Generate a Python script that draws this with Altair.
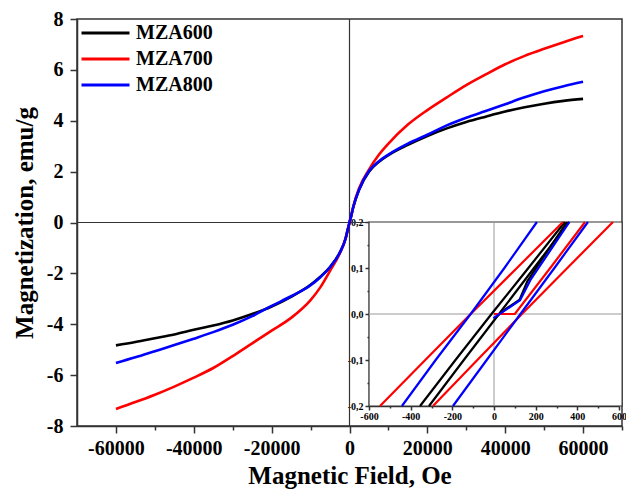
import altair as alt
import pandas as pd

# ---------------- main curves ----------------
FIELD = [-60000, -55000, -50000, -45000, -40000, -35000, -30000, -25000, -20000,
         -15000, -10000, -7500, -5000, -2500, -1000, -500, 0, 500, 1000, 2500,
         5000, 7500, 10000, 15000, 20000, 25000, 30000, 35000, 40000, 45000,
         50000, 55000, 60000]

M_MZA600 = [-4.83, -4.70, -4.55, -4.40, -4.22, -4.05, -3.85, -3.60, -3.30, -2.92,
            -2.45, -2.13, -1.75, -1.18, -0.62, -0.31, 0.0, 0.30, 0.62, 1.30, 2.00,
            2.38, 2.65, 3.05, 3.40, 3.70, 3.95, 4.16, 4.36, 4.53, 4.67, 4.78, 4.86]
M_MZA700 = [-7.33, -7.06, -6.77, -6.45, -6.10, -5.72, -5.25, -4.75, -4.25, -3.75,
            -3.05, -2.55, -1.90, -1.22, -0.63, -0.31, 0.0, 0.30, 0.64, 1.36, 2.08,
            2.65, 3.10, 3.85, 4.42, 4.92, 5.40, 5.82, 6.22, 6.55, 6.83, 7.09, 7.33]
M_MZA800 = [-5.52, -5.30, -5.06, -4.82, -4.57, -4.31, -4.02, -3.68, -3.28, -2.90,
            -2.47, -2.15, -1.76, -1.19, -0.63, -0.31, 0.0, 0.30, 0.63, 1.31, 2.02,
            2.40, 2.67, 3.10, 3.45, 3.82, 4.12, 4.38, 4.65, 4.92, 5.16, 5.36, 5.53]

SAMPLES = ["MZA600", "MZA700", "MZA800"]
COLORS = ["#000000", "#ff0000", "#0000ff"]

# ---------------- inset (low-field loops) ----------------
BLACK_DESC_H = [-355, -185, -12, 165, 340]
BLACK_DESC_M = [-0.2, -0.1, 0.0, 0.1, 0.2]
BLACK_ASC_H = [-312, -145, 24, 192, 360]
BLACK_ASC_M = [-0.2, -0.1, 0.0, 0.1, 0.2]
BLACK_VIRGIN_H = [0, 60, 123, 160, 350]
BLACK_VIRGIN_M = [-0.01, 0.012, 0.031, 0.071, 0.2]

RED_DESC_H = [-547, -330, -112, 110, 331]
RED_DESC_M = [-0.2, -0.1, 0.0, 0.1, 0.2]
RED_ASC_H = [-293, -80, 134, 352, 571]
RED_ASC_M = [-0.2, -0.1, 0.0, 0.1, 0.2]
RED_VIRGIN_H = [0, 100, 270, 437]
RED_VIRGIN_M = [0.0, 0.0, 0.1, 0.2]

BLUE_DESC_H = [-442, -280, -112, 50, 206]
BLUE_DESC_M = [-0.2, -0.1, 0.0, 0.1, 0.2]
BLUE_ASC_H = [-197, -35, 127, 290, 451]
BLUE_ASC_M = [-0.2, -0.1, 0.0, 0.1, 0.2]
BLUE_VIRGIN_H = [-3, 60, 125, 175, 362]
BLUE_VIRGIN_M = [-0.009, 0.01, 0.03, 0.074, 0.2]

# ---------------- build tables ----------------
rows = []
for s, vals in zip(SAMPLES, [M_MZA600, M_MZA700, M_MZA800]):
    for i, (h, m) in enumerate(zip(FIELD, vals)):
        rows.append({"field": h, "M": m, "sample": s, "idx": i})
main_df = pd.DataFrame(rows)

branches = [
    ("MZA600", "desc", BLACK_DESC_H, BLACK_DESC_M),
    ("MZA600", "asc", BLACK_ASC_H, BLACK_ASC_M),
    ("MZA600", "virgin", BLACK_VIRGIN_H, BLACK_VIRGIN_M),
    ("MZA700", "desc", RED_DESC_H, RED_DESC_M),
    ("MZA700", "asc", RED_ASC_H, RED_ASC_M),
    ("MZA700", "virgin", RED_VIRGIN_H, RED_VIRGIN_M),
    ("MZA800", "desc", BLUE_DESC_H, BLUE_DESC_M),
    ("MZA800", "asc", BLUE_ASC_H, BLUE_ASC_M),
    ("MZA800", "virgin", BLUE_VIRGIN_H, BLUE_VIRGIN_M),
]
irows = []
for s, b, hs, ms in branches:
    for i, (h, m) in enumerate(zip(hs, ms)):
        irows.append({"ix": h, "iy": m, "sample": s, "branch": s + b, "idx": i})
inset_df = pd.DataFrame(irows)

FONT = "Liberation Serif"

# ---------------- main layer ----------------
xscale = alt.Scale(domain=[-70000, 70000], nice=False, zero=False)
yscale = alt.Scale(domain=[-8, 8], nice=False, zero=False)

x_axis = alt.Axis(
    values=list(range(-60000, 70001, 10000)),
    labelExpr="datum.value % 20000 === 0 ? '' + datum.value : ''",
    tickSize={"condition": {"test": "datum.value % 20000 === 0", "value": 7}, "value": 4},
    title="Magnetic Field, Oe", labelFontSize=20, titleFontSize=25,
    labelPadding=5, titlePadding=5, labelFlush=False, labelOverlap=False,
    grid=False,
)
y_axis = alt.Axis(
    values=list(range(-8, 9)),
    labelExpr="datum.value % 2 === 0 ? '' + datum.value : ''",
    tickSize={"condition": {"test": "datum.value % 2 === 0", "value": 7}, "value": 4},
    title="Magnetization, emu/g", labelFontSize=20, titleFontSize=25,
    labelPadding=7, titlePadding=9, labelOverlap=False, grid=False,
)

lines = alt.Chart(main_df).mark_line(strokeWidth=2.6, interpolate="monotone").encode(
    x=alt.X("field:Q", scale=xscale, axis=x_axis),
    y=alt.Y("M:Q", scale=yscale, axis=y_axis),
    color=alt.Color(
        "sample:N",
        scale=alt.Scale(domain=SAMPLES, range=COLORS),
        legend=alt.Legend(
            orient="none", legendX=3, legendY=4, title=None,
            symbolType="stroke", symbolSize=2304, symbolStrokeWidth=3,
            labelFontSize=20, labelFont=FONT, labelFontWeight="bold",
            labelColor="black", labelOffset=5, rowPadding=6, clipHeight=20,
            padding=0,
        ),
    ),
    order="idx:Q",
)

zero_v = alt.Chart(pd.DataFrame({"field": [0]})).mark_rule(
    color="#333", strokeWidth=1.2).encode(x="field:Q")
zero_h = alt.Chart(pd.DataFrame({"M": [0]})).mark_rule(
    color="#333", strokeWidth=1.2).encode(y="M:Q")

main = alt.layer(zero_v, zero_h, lines)

# ---------------- inset layer ----------------
ixscale = alt.Scale(domain=[-600, 600], range=[292, 542], nice=False, zero=False)
iyscale = alt.Scale(domain=[-0.2, 0.2], range=[387, 203], nice=False, zero=False)

ix_axis = alt.Axis(
    orient="bottom", offset=-20,
    values=list(range(-600, 601, 100)),
    labelExpr="datum.value % 200 === 0 ? '' + datum.value : ''",
    tickSize={"condition": {"test": "datum.value % 200 === 0", "value": 4}, "value": 2},
    title=None, labelFontSize=10, labelPadding=1, labelFlush=False,
    labelOverlap=False, grid=False,
)
iy_axis = alt.Axis(
    orient="left", offset=-292,
    values=[-0.2, -0.15, -0.1, -0.05, 0, 0.05, 0.1, 0.15, 0.2],
    labelExpr=("abs(datum.value*10 - round(datum.value*10)) < 0.001 ? "
               "(datum.value < -0.001 ? '-' : '') + "
               "replace(format(abs(datum.value), '.1f'), '.', ',') : ''"),
    tickSize={"condition": {"test": "abs(datum.value*10 - round(datum.value*10)) < 0.001",
                            "value": 4}, "value": 2},
    title=None, labelFontSize=10, labelPadding=2, labelOverlap=False, grid=False,
)

bg = alt.Chart(pd.DataFrame({"ix": [-600], "ix2": [615], "iy": [-0.2], "iy2": [0.2]})).mark_rect(
    fill="white", stroke="#333", strokeWidth=1.2).encode(
    x=alt.X("ix:Q", scale=ixscale, axis=ix_axis),
    x2="ix2:Q",
    y=alt.Y("iy:Q", scale=iyscale, axis=iy_axis),
    y2="iy2:Q",
)
cross_v = alt.Chart(pd.DataFrame({"ix": [0], "iy": [-0.2], "iy2": [0.2]})).mark_rule(
    color="#999", strokeWidth=1).encode(x="ix:Q", y="iy:Q", y2="iy2:Q")
cross_h = alt.Chart(pd.DataFrame({"ix": [-600], "ix2": [615], "iy": [0]})).mark_rule(
    color="#999", strokeWidth=1).encode(x="ix:Q", x2="ix2:Q", y="iy:Q")

ilines = alt.Chart(inset_df).mark_line(strokeWidth=2.2).encode(
    x="ix:Q", y="iy:Q",
    color=alt.Color("sample:N"),
    detail="branch:N",
    order="idx:Q",
)

inset = alt.layer(bg, cross_v, cross_h, ilines)

chart = alt.layer(main, inset).resolve_scale(
    x="independent", y="independent"
).properties(
    width=545, height=407,
    autosize=alt.AutoSizeParams(type="none"),
    padding={"left": 77, "top": 19, "right": 4, "bottom": 68},
).configure_view(
    stroke="#333", strokeWidth=1.5
).configure_axis(
    domainColor="#333", domainWidth=1.5, tickColor="#333", tickWidth=1.5,
    labelFont=FONT, labelFontWeight="bold", labelColor="black",
    titleFont=FONT, titleFontWeight="bold", titleColor="black",
)

chart.save("out.html", embed_options={"renderer": "svg", "actions": False})
